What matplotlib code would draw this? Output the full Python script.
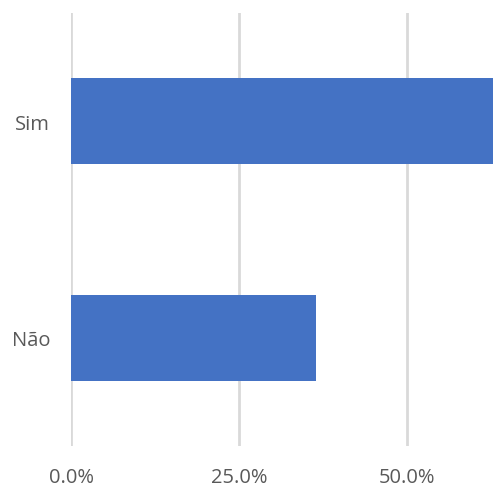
import matplotlib.pyplot as plt
from matplotlib.ticker import FuncFormatter

categories = ['Não', 'Sim']
values = [36.5, 63.5]
ticks = [0, 25, 50]

plt.rcParams['font.family'] = ['Open Sans', 'DejaVu Sans']

fig = plt.figure(figsize=(4.93, 4.89), dpi=100)
ax = fig.add_axes([71 / 493, 42 / 489, 422 / 493, 433 / 489])

ax.barh(categories, values, height=0.395, color='#4472C4', zorder=3)

ax.set_xlim(0, 422 / 6.72)
ax.set_ylim(-0.5, 1.5)
ax.set_xticks(ticks)
ax.xaxis.set_major_formatter(FuncFormatter(lambda v, p: f'{v:.1f}%'))
ax.grid(axis='x', color='#D9D9D9', linewidth=2, zorder=0)
for s in ax.spines.values():
    s.set_visible(False)
ax.tick_params(length=0, colors='#595959', labelsize=14.5)
ax.tick_params(axis='x', pad=15)
ax.tick_params(axis='y', pad=15)

fig.savefig('out.png', dpi=100)
